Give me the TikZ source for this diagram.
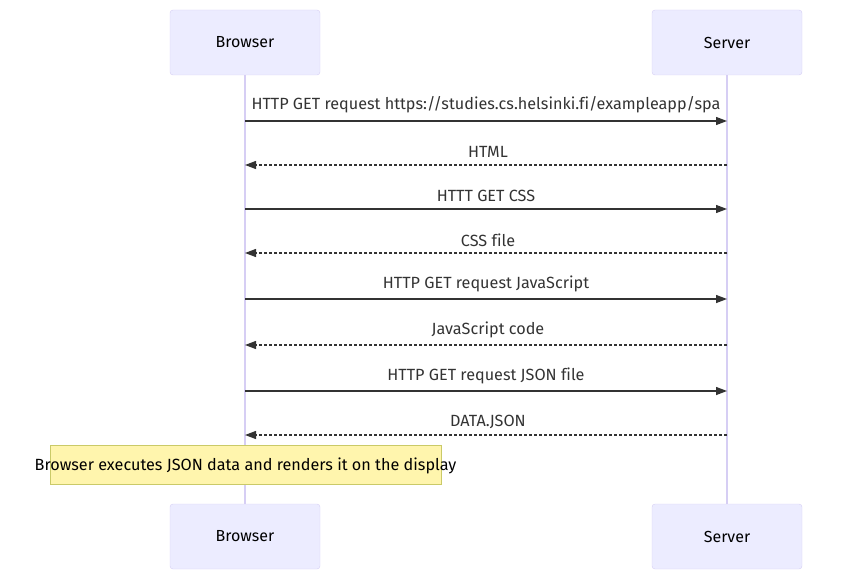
\documentclass[tikz,border=0pt]{standalone}
\usepackage{fontspec}
\setmainfont{Fira Sans}[Ligatures=NoCommon]
\usepackage{tikz}
\usetikzlibrary{arrows.meta, positioning}
\definecolor{actorfill}{HTML}{ECECFF}
\definecolor{actorline}{HTML}{D6CEF4}
\definecolor{notefill}{HTML}{FFF5AD}
\definecolor{noteline}{HTML}{CACA68}
\definecolor{msgcol}{HTML}{333333}

\begin{document}
\begin{tikzpicture}[x=1pt, y=-1pt,
				actor/.style={draw=actorline, fill=actorfill, rounded corners=3pt,
					minimum width=150pt, minimum height=65pt, font=\fontsize{16}{18}\selectfont},
				life/.style={draw=actorline, line width=1.5pt},
				msg/.style={-{Triangle[length=11pt,width=8pt]}, draw=msgcol, line width=1.3pt},
				reply/.style={msg, dash pattern=on 3pt off 2pt},
				lbl/.style={font=\fontsize{16.2}{18}\selectfont, text=msgcol, inner sep=0pt},
				note/.style={draw=noteline, fill=notefill, minimum width=391pt,
					minimum height=39pt, inner sep=0pt}]
				\useasboundingbox (0,0) rectangle (853,580);
				\node[actor] at (245,42.5) (bt) {Browser};
				\node[actor] at (727,42.5) (st) {Server};
				\node[actor] at (245,536.5) (bb) {Browser};
				\node[actor] at (727,536.5) (sb) {Server};
				% lifelines
				\draw[life] (bt) -- (bb);
				\draw[life] (st) -- (sb);
				% messages
				\coordinate (b1) at (245,121); \coordinate (s1) at (727,121);
				\coordinate (b2) at (245,165); \coordinate (s2) at (727,165);
				\coordinate (b3) at (245,209); \coordinate (s3) at (727,209);
				\coordinate (b4) at (245,253); \coordinate (s4) at (727,253);
				\coordinate (b5) at (245,299); \coordinate (s5) at (727,299);
				\coordinate (b6) at (245,345); \coordinate (s6) at (727,345);
				\coordinate (b7) at (245,391); \coordinate (s7) at (727,391);
				\coordinate (b8) at (245,435); \coordinate (s8) at (727,435);
				\node[lbl] at (486,105) (m1) {HTTP GET request https://studies.cs.helsinki.fi/exampleapp/spa};
				\node[lbl] at (488,152) (m2) {HTML};
				\node[lbl] at (486,196) (m3) {HTTT GET CSS};
				\node[lbl] at (488,240) (m4) {CSS file};
				\node[lbl] at (486,284) (m5) {HTTP GET request JavaScript};
				\node[lbl] at (488,330) (m6) {JavaScript code};
				\node[lbl] at (486,376) (m7) {HTTP GET request JSON file};
				\node[lbl] at (488,422) (m8) {DATA.JSON};
				\draw[msg] (b1) -- (s1);
				\draw[reply] (s2) -- (b2);
				\draw[msg] (b3) -- (s3);
				\draw[reply] (s4) -- (b4);
				\draw[msg] (b5) -- (s5);
				\draw[reply] (s6) -- (b6);
				\draw[msg] (b7) -- (s7);
				\draw[reply] (s8) -- (b8);
				% note
				\node[note] at (245.5,464.5) (n) {};
				\node[lbl, text=black] at (245.5,466) (nt) {Browser executes JSON data and renders it on the display};
			\end{tikzpicture}
\end{document}
